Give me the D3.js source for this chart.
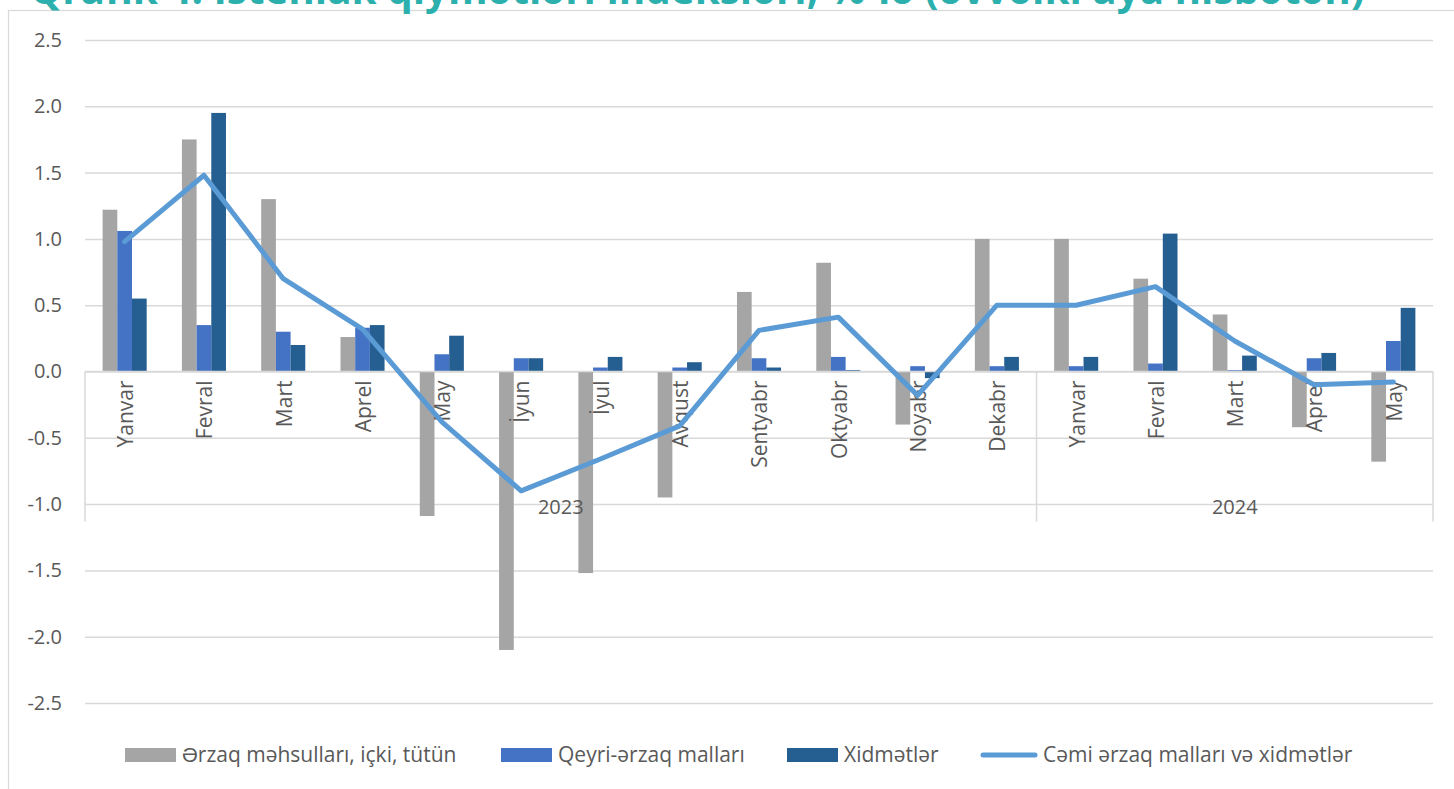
<!DOCTYPE html>
<html>
<head>
<meta charset="utf-8">
<script src="https://cdn.jsdelivr.net/npm/d3@7"></script>
<style>
  body { margin: 0; background: #fff; }
  svg { display: block; font-family: 'Open Sans', sans-serif; }
</style>
</head>
<body>
<svg id="chart"></svg>
<script>
// months on the category axis, grouped by year
let months = ['Yanvar', 'Fevral', 'Mart', 'Aprel', 'May', 'İyun', 'İyul', 'Avqust', 'Sentyabr', 'Oktyabr', 'Noyabr', 'Dekabr',
              'Yanvar', 'Fevral', 'Mart', 'Aprel', 'May']
let years = [{ label: '2023', from: 0, to: 12 }, { label: '2024', from: 12, to: 17 }]

// series values, % vs previous month
let food     = [1.22, 1.75, 1.30, 0.26, -1.09, -2.10, -1.52, -0.95, 0.60, 0.82, -0.40, 1.00, 1.00, 0.70, 0.43, -0.42, -0.68]
let nonFood  = [1.06, 0.35, 0.30, 0.33, 0.13, 0.10, 0.03, 0.03, 0.10, 0.11, 0.04, 0.04, 0.04, 0.06, 0.01, 0.10, 0.23]
let services = [0.55, 1.95, 0.20, 0.35, 0.27, 0.10, 0.11, 0.07, 0.03, 0.01, -0.05, 0.11, 0.11, 1.04, 0.12, 0.14, 0.48]
let total    = [0.98, 1.48, 0.70, 0.32, -0.38, -0.90, -0.66, -0.41, 0.31, 0.41, -0.18, 0.50, 0.50, 0.64, 0.23, -0.10, -0.08]

let yTicks = [2.5, 2.0, 1.5, 1.0, 0.5, 0.0, -0.5, -1.0, -1.5, -2.0, -2.5]

let seriesNames = ['Ərzaq məhsulları, içki, tütün', 'Qeyri-ərzaq malları', 'Xidmətlər', 'Cəmi ərzaq malları və xidmətlər']
let colors = ['#a5a5a5', '#4472c4', '#255e91', '#5b9bd5']

let title = 'Qrafik 4. İstehlak qiymətləri indeksləri, %-lə (əvvəlki aya nisbətən)'

//sizes
let outerWidth = 1454
let outerHeight = 789
let margins = { top: 40, left: 85, right: 21, bottom: 86 }
let innerWidth = outerWidth - margins.left - margins.right
let innerHeight = outerHeight - margins.top - margins.bottom

let svg = d3.select('svg#chart')
  .attr('width', outerWidth)
  .attr('height', outerHeight)

//chart frame
svg.append('rect')
  .attr('x', 8.5)
  .attr('y', 10.5)
  .attr('width', outerWidth + 10)
  .attr('height', outerHeight + 10)
  .attr('fill', 'none')
  .attr('stroke', '#d9d9d9')
  .attr('stroke-width', 1.2)

//title, cut off by the top of the picture
let titleText = svg.append('text')
  .attr('x', 30)
  .attr('y', 4)
  .attr('fill', '#2bb0ad')
  .attr('font-weight', 'bold')
  .attr('font-size', 32)
  .text(title)
let tw = titleText.node().getComputedTextLength()
titleText.attr('font-size', 32 * 1335 / tw)

let inner = svg.append('g')
  .attr('transform', 'translate(' + margins.left + ',' + margins.top + ')')

let yScale = d3.scaleLinear()
  .domain([-2.5, 2.5])
  .range([663, 0])

let xScale = d3.scaleBand()
  .domain(d3.range(months.length))
  .range([0, innerWidth])

// 3 bars per group, gap 240%
let barW = xScale.bandwidth() / 5.4
let groupOffset = (xScale.bandwidth() - 3 * barW) / 2

//gridlines
let yAxis = d3.axisLeft(yScale).tickValues(yTicks).tickSize(-innerWidth).tickFormat(d3.format('.1f'))
let yG = inner.append('g').attr('class', 'y axis').call(yAxis)
yG.select('.domain').remove()
yG.selectAll('.tick line').attr('stroke', '#d9d9d9').attr('stroke-width', 1.5)
yG.selectAll('.tick text')
  .attr('x', -23)
  .attr('fill', '#595959')
  .attr('font-size', 20)
  .attr('font-family', 'Open Sans, sans-serif')
  .text(d => d < 0 ? '-' + d3.format('.1f')(-d) : d3.format('.1f')(d))

//bars
let seriesData = [food, nonFood, services]
seriesData.forEach((vals, s) => {
  inner.append('g')
    .selectAll('rect')
    .data(vals)
    .join('rect')
    .attr('x', (d, i) => xScale(i) + groupOffset + s * barW)
    .attr('y', d => yScale(Math.max(0, d)))
    .attr('width', barW)
    .attr('height', d => Math.abs(yScale(d) - yScale(0)))
    .attr('fill', colors[s])
})

//category axis: baseline and group separators
let y0 = yScale(0)
inner.append('line')
  .attr('x1', 0).attr('x2', innerWidth)
  .attr('y1', y0).attr('y2', y0)
  .attr('stroke', '#d9d9d9').attr('stroke-width', 1.5)

let sepIdx = [0, 12, 17]
inner.selectAll('line.sep')
  .data(sepIdx)
  .join('line')
  .attr('class', 'sep')
  .attr('x1', d => d === 17 ? innerWidth : xScale(d))
  .attr('x2', d => d === 17 ? innerWidth : xScale(d))
  .attr('y1', y0)
  .attr('y2', y0 + 150)
  .attr('stroke', '#d9d9d9').attr('stroke-width', 1.5)

//month labels
inner.selectAll('text.month')
  .data(months)
  .join('text')
  .attr('class', 'month')
  .attr('transform', (d, i) => 'translate(' + (xScale(i) + xScale.bandwidth() / 2 + 1) + ',' + (y0 + 9) + ') rotate(-90)')
  .attr('text-anchor', 'end')
  .attr('dy', '0.35em')
  .attr('fill', '#595959')
  .attr('font-size', 21)
  .text(d => d)

//year labels
inner.selectAll('text.year')
  .data(years)
  .join('text')
  .attr('class', 'year')
  .attr('x', d => ((d.to === 17 ? innerWidth : xScale(d.to)) + xScale(d.from)) / 2)
  .attr('y', y0 + 142)
  .attr('text-anchor', 'middle')
  .attr('fill', '#595959')
  .attr('font-size', 20)
  .text(d => d.label)

//total line
let line = d3.line()
  .x((d, i) => xScale(i) + xScale.bandwidth() / 2)
  .y(d => yScale(d))

inner.append('path')
  .datum(total)
  .attr('d', line)
  .attr('fill', 'none')
  .attr('stroke', colors[3])
  .attr('stroke-width', 5)
  .attr('stroke-linejoin', 'round')
  .attr('stroke-linecap', 'round')

//legend
let legendX = [125, 501, 787, 981]
let legend = svg.append('g')
  .selectAll('g')
  .data(seriesNames)
  .join('g')
  .attr('transform', (d, i) => 'translate(' + legendX[i] + ',748)')

legend.filter((d, i) => i < 3)
  .append('rect')
  .attr('width', 51)
  .attr('height', 14)
  .attr('fill', (d, i) => colors[i])

legend.filter((d, i) => i === 3)
  .append('line')
  .attr('x1', 2).attr('x2', 54)
  .attr('y1', 7).attr('y2', 7)
  .attr('stroke', colors[3])
  .attr('stroke-width', 5)
  .attr('stroke-linecap', 'round')

legend.append('text')
  .attr('x', (d, i) => i === 3 ? 62 : 57)
  .attr('y', 7)
  .attr('dy', '0.35em')
  .attr('fill', '#595959')
  .attr('font-size', 21)
  .text(d => d)
</script>
</body>
</html>
